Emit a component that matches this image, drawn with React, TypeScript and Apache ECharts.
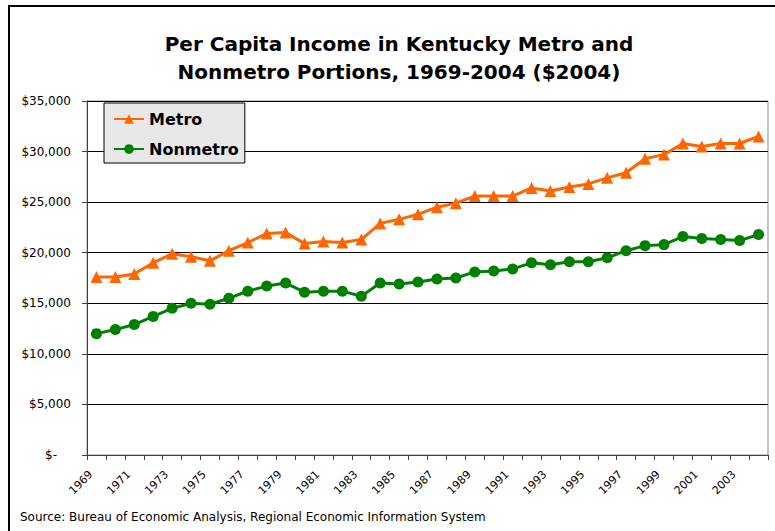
import React, { useEffect, useRef } from "react";
import * as echarts from "echarts";

const years: string[] = [];
for (let y = 1969; y <= 2004; y++) years.push(String(y));

const metro = [
  17600, 17600, 17900, 19000, 19900, 19600, 19200, 20200, 21000, 21900,
  22000, 20900, 21100, 21000, 21300, 22900, 23300, 23800, 24500, 24900,
  25600, 25600, 25600, 26400, 26100, 26500, 26800, 27400, 27900, 29300,
  29700, 30800, 30500, 30800, 30800, 31500,
];

const nonmetro = [
  12000, 12400, 12900, 13700, 14500, 15000, 14900, 15500, 16200, 16700,
  17000, 16100, 16200, 16200, 15700, 17000, 16900, 17100, 17400, 17500,
  18100, 18200, 18400, 19000, 18800, 19100, 19100, 19500, 20200, 20700,
  20800, 21600, 21400, 21300, 21200, 21800,
];

export default function App() {
  const ref = useRef<HTMLDivElement>(null);
  useEffect(() => {
    if (!ref.current) return;
    const chart = echarts.init(ref.current, undefined, { renderer: "svg" });
    chart.setOption({
      animation: false,
      backgroundColor: "#ffffff",
      title: {
        text: "Per Capita Income in Kentucky Metro and\nNonmetro Portions, 1969-2004 ($2004)",
        left: 394,
        top: 25,
        textAlign: "center",
        textStyle: {
          fontFamily: "DejaVu Sans",
          fontWeight: "bold",
          fontSize: 20,
          lineHeight: 28,
          color: "#000",
        },
      },
      graphic: [
        {
          type: "rect",
          shape: { x: 9, y: 6, width: 900, height: 700 },
          style: { fill: "none", stroke: "#000", lineWidth: 2 },
          silent: true,
        },
        {
          type: "text",
          left: 20,
          top: 511,
          style: {
            text: "Source: Bureau of Economic Analysis, Regional Economic Information System",
            fontFamily: "DejaVu Sans",
            fontSize: 12,
            fill: "#000",
          },
        },
      ],
      legend: {
        orient: "vertical",
        left: 104,
        top: 103,
        padding: [8, 6, 6, 9],
        itemGap: 14,
        itemWidth: 30,
        itemHeight: 12,
        backgroundColor: "#e8e8e8",
        borderColor: "#000",
        borderWidth: 1,
        borderRadius: 0,
        textStyle: {
          fontFamily: "DejaVu Sans",
          fontWeight: "bold",
          fontSize: 16,
          color: "#000",
        },
        data: ["Metro", "Nonmetro"],
      },
      grid: {
        left: 87,
        top: 101,
        right: 7,
        bottom: 76,
        show: true,
        borderColor: "#888",
        borderWidth: 1,
        containLabel: false,
      },
      xAxis: {
        type: "category",
        data: years,
        boundaryGap: true,
        axisLine: { show: true, lineStyle: { color: "#444", width: 1 } },
        axisTick: { show: true, interval: 0, length: 5, lineStyle: { color: "#444" } },
        axisLabel: {
          interval: 1,
          rotate: 45,
          margin: 12,
          padding: [0, 8, 0, 0],
          fontFamily: "DejaVu Sans",
          fontSize: 11,
          color: "#000",
        },
        splitLine: { show: false },
      },
      yAxis: {
        type: "value",
        min: 0,
        max: 35000,
        interval: 5000,
        axisLine: { show: true, lineStyle: { color: "#444", width: 1 } },
        axisTick: { show: true, length: 5, lineStyle: { color: "#444" } },
        splitLine: { show: true, lineStyle: { color: "#000", width: 1 } },
        axisLabel: {
          margin: 16,
          fontFamily: "DejaVu Sans",
          fontSize: 12,
          color: "#000",
          formatter: (v: number) =>
            v === 0 ? "{z|$-}" : "$" + v.toLocaleString("en-US"),
          rich: {
            z: {
              fontFamily: "DejaVu Sans",
              fontSize: 12,
              color: "#000",
              padding: [0, 14, 0, 0],
            },
          },
        },
      },
      series: [
        {
          name: "Metro",
          type: "line",
          data: metro,
          symbol: "triangle",
          symbolSize: 12,
          color: "#FF6600",
          lineStyle: { width: 3, color: "#FF6600" },
          itemStyle: { color: "#FF6600" },
        },
        {
          name: "Nonmetro",
          type: "line",
          data: nonmetro,
          symbol: "circle",
          symbolSize: 11,
          color: "#008000",
          lineStyle: { width: 3, color: "#008000" },
          itemStyle: { color: "#008000" },
        },
      ],
    });
    return () => chart.dispose();
  }, []);
  return (
    <div
      ref={ref}
      style={{ position: "fixed", left: 0, top: 0, width: 775, height: 531 }}
    />
  );
}
